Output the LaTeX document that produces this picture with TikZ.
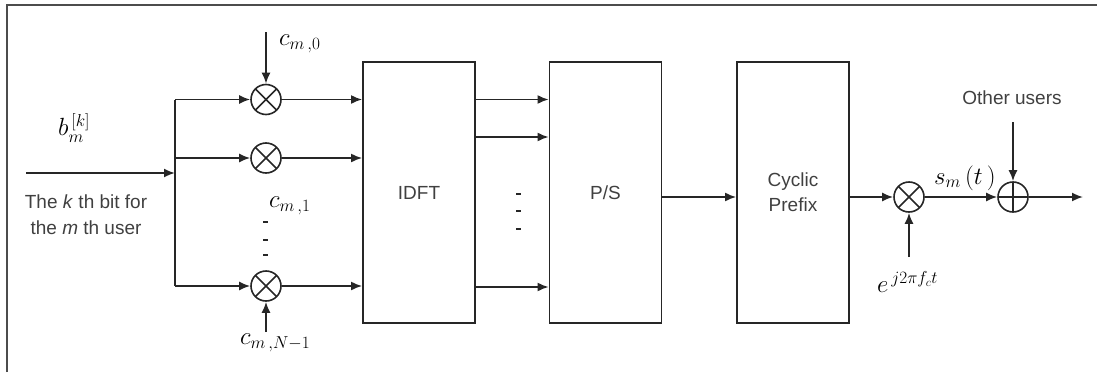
\documentclass[tikz,border=0pt]{standalone}
\usepackage{fontspec}
\setsansfont{Liberation Sans}
\usetikzlibrary{arrows.meta}
\begin{document}
\begin{tikzpicture}[x=1pt,y=-1pt,
  ln/.style={line width=1.8pt, draw=black!85},
  arr/.style={ln, -{Latex[length=11pt,width=9pt]}},
  blk/.style={draw=black!85, line width=1.8pt, minimum width=112pt, minimum height=261pt,
    inner sep=0pt, align=center, text=black!75, font=\sffamily\fontsize{19}{25}\selectfont},
  mult/.style={circle, draw=black!85, line width=1.6pt, minimum size=30pt, inner sep=0pt,
    path picture={\draw[line width=1.5pt, black!85]
      (path picture bounding box.north west) -- (path picture bounding box.south east)
      (path picture bounding box.north east) -- (path picture bounding box.south west);}},
  summ/.style={circle, draw=black!85, line width=1.6pt, minimum size=30pt, inner sep=0pt,
    path picture={\draw[line width=1.5pt, black!85]
      (path picture bounding box.north) -- (path picture bounding box.south)
      (path picture bounding box.west) -- (path picture bounding box.east);}},
  txt/.style={text=black!75, font=\sffamily\fontsize{19}{26}\selectfont, align=center, inner sep=0pt},
  mth/.style={font=\fontsize{24}{28}\selectfont, inner sep=0pt, anchor=west}
]
\useasboundingbox (0,0) rectangle (1097,372);
% frame
\draw[line width=1.8pt, black!70] (7,372) -- (7,5) -- (1097,5);

% blocks
\node[blk] (idft) at (419,192.5) {IDFT};
\node[blk] (ps) at (605.5,192.5) {P/S};
\node[blk] (cp) at (793,192.5) {Cyclic\\Prefix};

% multipliers
\node[mult] (m0) at (266,99.5) {};
\node[mult] (m1) at (266,158) {};
\node[mult] (m2) at (266,286) {};
\node[mult] (mc) at (909,197) {};
\node[summ] (sum) at (1013,197) {};

% coordinates
\coordinate (in) at (26,173);
\coordinate (br) at (175,173);
\coordinate (br0) at (175,99.5);
\coordinate (br1) at (175,158);
\coordinate (br2) at (175,286);
\coordinate (c0) at (266,32);
\coordinate (cN) at (266,332);
\coordinate (ec) at (909,257);
\coordinate (ou) at (1013,122);
\coordinate (out) at (1083,197);
\coordinate (r1) at (0,137);
\coordinate (r2) at (0,287);

% input and branches
\draw[arr] (in) -- (br);
\draw[ln] (br0) -- (br2);
\draw[arr] (br0) -- (m0);
\draw[arr] (br1) -- (m1);
\draw[arr] (br2) -- (m2);
\draw[arr] (c0) -- (m0.north);
\draw[arr] (cN) -- (m2.south);

% to IDFT
\draw[arr] (m0) -- (m0 -| idft.west);
\draw[arr] (m1) -- (m1 -| idft.west);
\draw[arr] (m2) -- (m2 -| idft.west);

% IDFT to P/S
\draw[arr] (m0 -| idft.east) -- (m0 -| ps.west);
\draw[arr] (r1 -| idft.east) -- (r1 -| ps.west);
\draw[arr] (r2 -| idft.east) -- (r2 -| ps.west);

% P/S to CP and on
\draw[arr] (mc -| ps.east) -- (mc -| cp.west);
\draw[arr] (mc -| cp.east) -- (mc);
\draw[arr] (mc) -- (sum);
\draw[arr] (ec) -- (mc.south);
\draw[arr] (ou) -- (sum.north);
\draw[arr] (sum) -- (out);

% dashes
\foreach \y in {222,240,255} \draw[ln] (263,\y) -- (268,\y);
\foreach \y in {194,211,229} \draw[ln] (516,\y) -- (521,\y);

% labels
\node[mth] (lc0) at (279,44) {$c_{m\,,0}$};
\node[mth] (lc1) at (269,206) {$c_{m\,,1}$};
\node[mth] (lcN) at (240,343) {$c_{m\,,N-1}$};
\node[mth] (lb) at (58,128) {$b_m^{\,[k]}$};
\node[mth] (le) at (877,282) {$e^{\,j2\pi f_c t}$};
\node[mth] (ls) at (934,178) {$s_m\,(t\,)$};
\node[txt] (lbit) at (86,215) {The \textit{k} th bit for\\the \textit{m} th user};
\node[txt] (lou) at (1012,98) {Other users};
\end{tikzpicture}
\end{document}
